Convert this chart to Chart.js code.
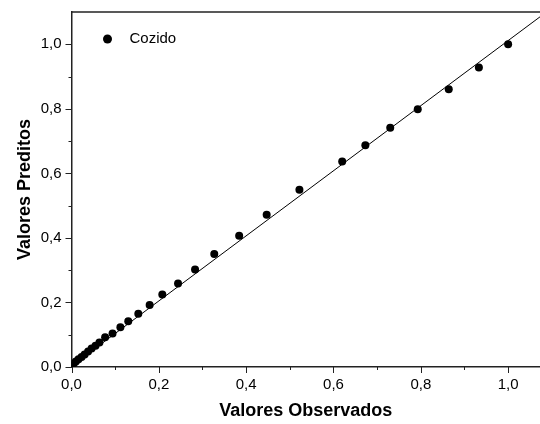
<!DOCTYPE html>
<html>
<head>
<meta charset="utf-8">
<script src="https://cdn.jsdelivr.net/npm/chart.js@4.4.0/dist/chart.umd.min.js"></script>
<style>
  html, body { margin: 0; padding: 0; background: #fff; }
  canvas { display: block; }
</style>
</head>
<body>
<canvas id="myChart" width="540" height="424"></canvas>
<script>
const observados = [0.001, 0.005, 0.010, 0.016, 0.023, 0.030, 0.038, 0.046, 0.055, 0.064, 0.077,
                    0.094, 0.112, 0.130, 0.153, 0.179, 0.208, 0.244, 0.283, 0.327, 0.384,
                    0.447, 0.522, 0.620, 0.673, 0.730, 0.793, 0.864, 0.933, 1.000];
const preditos   = [0.005, 0.011, 0.017, 0.024, 0.031, 0.039, 0.048, 0.057, 0.066, 0.076, 0.092,
                    0.104, 0.123, 0.142, 0.165, 0.192, 0.225, 0.259, 0.302, 0.350, 0.407,
                    0.472, 0.549, 0.637, 0.687, 0.741, 0.799, 0.861, 0.928, 1.000];

// Fitted line end points
const fitX = [0, 1.073];
const fitY = [0.003, 1.085];

// Axis ticks
const tickValues = [0, 0.1, 0.2, 0.3, 0.4, 0.5, 0.6, 0.7, 0.8, 0.9, 1.0];
const tickLabels = ['0,0', '', '0,2', '', '0,4', '', '0,6', '', '0,8', '', '1,0'];

const seriesLabel = 'Cozido';
const axisColor = '#222';

// top frame line, outward tick marks (major/minor) and the in-plot legend
const framePlugin = {
    id: 'frame',
    afterDraw(chart) {
        const { ctx, chartArea: a, scales } = chart;
        ctx.save();
        ctx.strokeStyle = axisColor;
        ctx.lineWidth = 1.5;
        ctx.beginPath();
        ctx.moveTo(a.left, a.top);
        ctx.lineTo(a.right, a.top);
        ctx.stroke();

        ctx.lineWidth = 1;
        scales.x.ticks.forEach((t, i) => {
            const px = Math.round(scales.x.getPixelForValue(t.value)) + 0.5;
            const len = tickLabels[i] ? 6 : 3;
            ctx.beginPath();
            ctx.moveTo(px, a.bottom);
            ctx.lineTo(px, a.bottom + len);
            ctx.stroke();
        });
        scales.y.ticks.forEach((t, i) => {
            const py = Math.round(scales.y.getPixelForValue(t.value)) + 0.5;
            const len = tickLabels[i] ? 6 : 3;
            ctx.beginPath();
            ctx.moveTo(a.left, py);
            ctx.lineTo(a.left - len, py);
            ctx.stroke();
        });

        // legend
        const lx = a.left + 36, ly = a.top + 27;
        ctx.fillStyle = '#000';
        ctx.beginPath();
        ctx.arc(lx, ly, 4.5, 0, Math.PI * 2);
        ctx.fill();
        ctx.font = '15px "Liberation Sans", Arial, sans-serif';
        ctx.textBaseline = 'middle';
        ctx.textAlign = 'left';
        ctx.fillText(chart.data.datasets[0].label, lx + 22, ly);
        ctx.restore();
    }
};

const setTicks = scale => {
    scale.ticks = tickValues.map(v => ({ value: v }));
};

const noPad = s => {
    s.paddingTop = 0;
    s.paddingBottom = 0;
    s.paddingLeft = 0;
    s.paddingRight = 0;
};

const tickFont = { family: '"Liberation Sans", Arial, sans-serif', size: 15 };
const titleFont = { family: '"Liberation Sans", Arial, sans-serif', size: 18, weight: 'bold' };

const chartConfig = {
    type: 'scatter',
    data: {
        datasets: [
            {
                label: seriesLabel,
                data: observados.map((x, i) => ({ x: x, y: preditos[i] })),
                backgroundColor: '#000',
                borderWidth: 0,
                pointRadius: 4,
                order: 1
            },
            {
                label: 'fit',
                type: 'line',
                data: fitX.map((x, i) => ({ x: x, y: fitY[i] })),
                borderColor: '#000',
                borderWidth: 1,
                pointRadius: 0,
                fill: false,
                order: 2
            }
        ]
    },
    options: {
        responsive: false,
        animation: false,
        layout: { autoPadding: false, padding: { top: 12, right: 0, left: 0, bottom: 0 } },
        plugins: {
            legend: { display: false },
            tooltip: { enabled: false }
        },
        scales: {
            x: {
                type: 'linear',
                min: 0,
                max: 1.073,
                afterBuildTicks: setTicks,
                afterFit: s => { s.height = 57; noPad(s); },
                ticks: {
                    color: '#000',
                    font: tickFont,
                    padding: 9,
                    maxRotation: 0,
                    autoSkip: false,
                    callback: (v, i) => tickLabels[i]
                },
                grid: { display: true, drawOnChartArea: false, drawTicks: false, color: 'transparent' },
                border: { display: true, color: axisColor, width: 1.5 },
                title: {
                    display: true,
                    text: 'Valores Observados',
                    color: '#000',
                    font: titleFont,
                    padding: { top: 0, bottom: 2 }
                }
            },
            y: {
                type: 'linear',
                min: 0,
                max: 1.1,
                afterBuildTicks: setTicks,
                afterFit: s => { s.width = 71.5; noPad(s); },
                ticks: {
                    color: '#000',
                    font: tickFont,
                    padding: 10,
                    autoSkip: false,
                    callback: (v, i) => tickLabels[i]
                },
                grid: { display: true, drawOnChartArea: false, drawTicks: false, color: 'transparent' },
                border: { display: true, color: axisColor, width: 1.5 },
                title: {
                    display: true,
                    text: 'Valores Preditos',
                    color: '#000',
                    font: titleFont,
                    padding: { top: 14, bottom: 0 }
                }
            }
        }
    },
    plugins: [framePlugin]
};

const ctx = document.getElementById('myChart').getContext('2d');
new Chart(ctx, chartConfig);
</script>
</body>
</html>
